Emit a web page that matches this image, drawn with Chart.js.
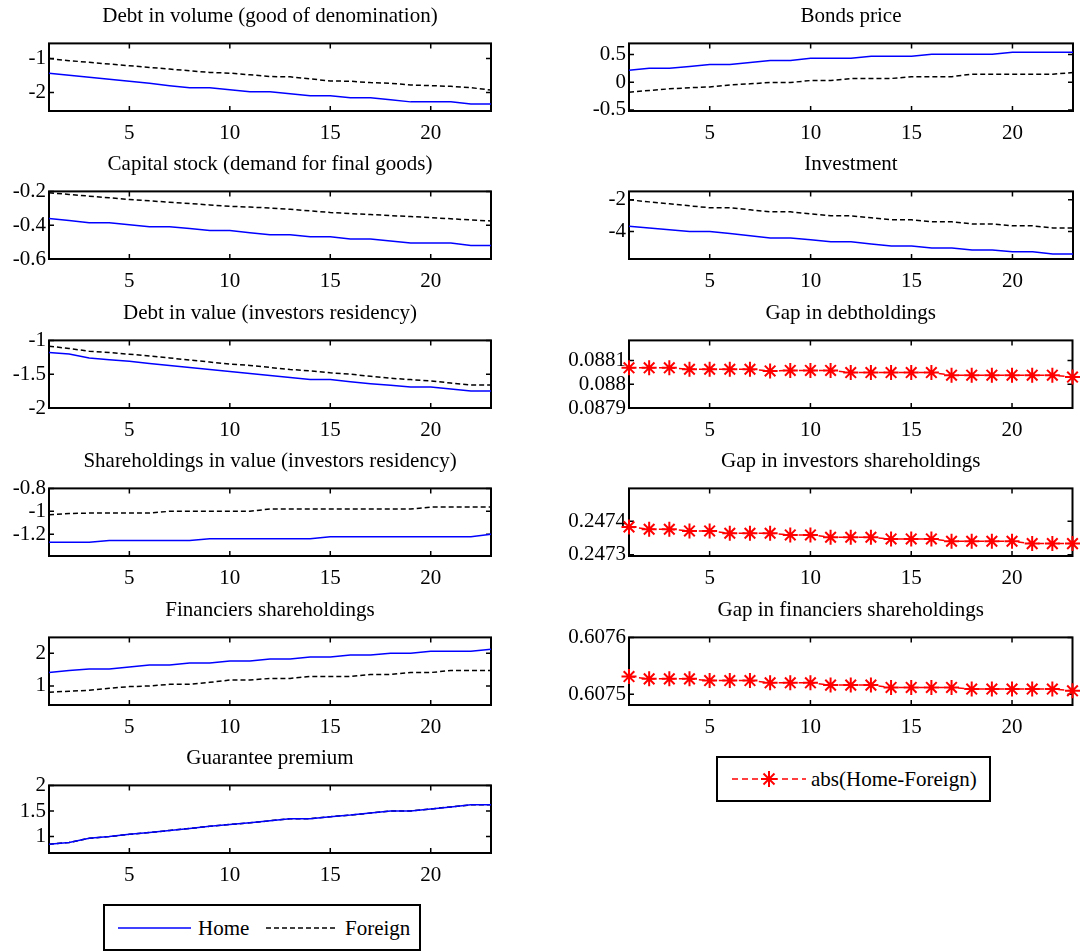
<!DOCTYPE html>
<html>
<head>
<meta charset="utf-8">
<script src="https://cdn.jsdelivr.net/npm/chart.js@4.4.0/dist/chart.umd.min.js"></script>
<style>
    body { margin: 0; background: #fff; width: 1082px; height: 952px; position: relative; overflow: hidden; font-family: "Liberation Serif", "Times New Roman", serif; }
    canvas { position: absolute; }
    .legend { position: absolute; border: 2px solid #000; box-sizing: border-box; background: #fff; font-size: 21px; color: #000; }
    .legend svg { position: absolute; left: 0; top: 0; }
    .legend span { position: absolute; top: 50%; transform: translateY(-50%); white-space: nowrap; }
</style>
</head>
<body>
<div id="root"></div>
<div class="legend" style="left:103px; top:904px; width:318px; height:47px;">
    <svg width="318" height="47">
        <line x1="13" y1="22" x2="86" y2="22" stroke="#0000ff" stroke-width="1.5"/>
        <line x1="161" y1="22" x2="233" y2="22" stroke="#000" stroke-width="1.5" stroke-dasharray="5,3"/>
    </svg>
    <span style="left:93px;">Home</span>
    <span style="left:240px;">Foreign</span>
</div>
<div class="legend" style="left:716px; top:756px; width:275px; height:46px;">
    <svg width="275" height="46">
        <line x1="14" y1="21" x2="88" y2="21" stroke="#ff0000" stroke-width="1.5" stroke-dasharray="6,4"/>
        <g stroke="#ff0000" stroke-width="2">
            <line x1="51" y1="13" x2="51" y2="29"/><line x1="43" y1="21" x2="59" y2="21"/>
            <line x1="45.5" y1="15.5" x2="56.5" y2="26.5"/><line x1="56.5" y1="15.5" x2="45.5" y2="26.5"/>
        </g>
    </svg>
    <span style="left:93px;">abs(Home-Foreign)</span>
</div>
<script>
const periods = [1, 2, 3, 4, 5, 6, 7, 8, 9, 10, 11, 12, 13, 14, 15, 16, 17, 18, 19, 20, 21, 22, 23];
const xTicks = [5, 10, 15, 20];

// left column
const debtVolumeHome = [-1.43, -1.49, -1.55, -1.61, -1.67, -1.73, -1.80, -1.86, -1.86, -1.92, -1.98, -1.98, -2.04, -2.10, -2.10, -2.16, -2.16, -2.22, -2.28, -2.28, -2.28, -2.34, -2.34];
const debtVolumeForeign = [-1.00, -1.06, -1.11, -1.16, -1.21, -1.26, -1.31, -1.36, -1.41, -1.43, -1.48, -1.53, -1.54, -1.60, -1.66, -1.67, -1.71, -1.73, -1.78, -1.80, -1.82, -1.86, -1.93];
const debtVolumeTicks = [-2, -1];

const capitalHome = [-0.360, -0.372, -0.385, -0.385, -0.397, -0.409, -0.409, -0.420, -0.431, -0.431, -0.444, -0.457, -0.457, -0.469, -0.469, -0.481, -0.481, -0.493, -0.505, -0.505, -0.505, -0.520, -0.520];
const capitalForeign = [-0.208, -0.218, -0.228, -0.238, -0.248, -0.256, -0.264, -0.272, -0.280, -0.288, -0.293, -0.298, -0.306, -0.315, -0.325, -0.331, -0.337, -0.343, -0.349, -0.355, -0.362, -0.369, -0.375];
const capitalTicks = [-0.6, -0.4, -0.2];

const debtValueHome = [-1.18, -1.20, -1.26, -1.285, -1.31, -1.34, -1.37, -1.40, -1.43, -1.46, -1.49, -1.52, -1.55, -1.58, -1.58, -1.61, -1.64, -1.665, -1.69, -1.69, -1.72, -1.75, -1.75];
const debtValueForeign = [-1.085, -1.12, -1.16, -1.18, -1.205, -1.23, -1.26, -1.29, -1.32, -1.35, -1.37, -1.40, -1.43, -1.45, -1.48, -1.50, -1.53, -1.56, -1.58, -1.60, -1.63, -1.66, -1.66];
const debtValueTicks = [-2, -1.5, -1];

const shareValueHome = [-1.27, -1.27, -1.27, -1.255, -1.255, -1.255, -1.255, -1.255, -1.24, -1.24, -1.24, -1.24, -1.24, -1.24, -1.223, -1.223, -1.223, -1.223, -1.223, -1.223, -1.223, -1.223, -1.20];
const shareValueForeign = [-1.03, -1.02, -1.015, -1.015, -1.015, -1.015, -1.00, -1.00, -1.00, -1.00, -1.00, -0.98, -0.98, -0.98, -0.98, -0.98, -0.98, -0.98, -0.98, -0.963, -0.963, -0.963, -0.963];
const shareValueTicks = [-1.2, -1, -0.8];

const financiersHome = [1.41, 1.47, 1.52, 1.52, 1.58, 1.64, 1.64, 1.70, 1.70, 1.76, 1.76, 1.82, 1.82, 1.88, 1.88, 1.94, 1.94, 2.00, 2.00, 2.06, 2.06, 2.06, 2.12];
const financiersForeign = [0.81, 0.84, 0.87, 0.93, 0.98, 1.00, 1.05, 1.05, 1.11, 1.18, 1.18, 1.23, 1.23, 1.29, 1.29, 1.29, 1.35, 1.35, 1.41, 1.41, 1.47, 1.47, 1.47];
const financiersTicks = [1, 2];

const guaranteeHome = [0.853, 0.885, 0.968, 1.00, 1.045, 1.08, 1.12, 1.16, 1.20, 1.236, 1.27, 1.31, 1.35, 1.35, 1.39, 1.42, 1.46, 1.50, 1.50, 1.54, 1.58, 1.62, 1.62];
const guaranteeForeign = [0.853, 0.885, 0.968, 1.00, 1.045, 1.08, 1.12, 1.16, 1.20, 1.236, 1.27, 1.31, 1.35, 1.35, 1.39, 1.42, 1.46, 1.50, 1.50, 1.54, 1.58, 1.62, 1.62];
const guaranteeTicks = [1, 1.5, 2];

// right column
const bondsHome = [0.215, 0.25, 0.25, 0.285, 0.32, 0.32, 0.355, 0.39, 0.39, 0.43, 0.43, 0.43, 0.47, 0.47, 0.47, 0.505, 0.505, 0.505, 0.505, 0.54, 0.54, 0.54, 0.54];
const bondsForeign = [-0.18, -0.15, -0.12, -0.10, -0.085, -0.05, -0.03, -0.005, -0.005, 0.03, 0.03, 0.067, 0.067, 0.067, 0.10, 0.10, 0.10, 0.145, 0.145, 0.145, 0.145, 0.145, 0.175];
const bondsTicks = [-0.5, 0, 0.5];

const investmentHome = [-3.66, -3.78, -3.89, -4.00, -4.00, -4.13, -4.27, -4.40, -4.40, -4.52, -4.65, -4.65, -4.78, -4.91, -4.91, -5.03, -5.03, -5.16, -5.16, -5.28, -5.28, -5.41, -5.41];
const investmentForeign = [-2.00, -2.13, -2.25, -2.38, -2.50, -2.50, -2.63, -2.76, -2.76, -2.88, -3.01, -3.01, -3.13, -3.26, -3.26, -3.39, -3.39, -3.52, -3.52, -3.64, -3.64, -3.77, -3.77];
const investmentTicks = [-4, -2];

const gapDebt = [0.088069, 0.088069, 0.088069, 0.088063, 0.088063, 0.088063, 0.088063, 0.088056, 0.088058, 0.088058, 0.088058, 0.088049, 0.088049, 0.088049, 0.088049, 0.088049, 0.088038, 0.088038, 0.088038, 0.088038, 0.088038, 0.088038, 0.088030];
const gapDebtTicks = [0.0879, 0.088, 0.0881];

const gapInvestors = [0.247383, 0.247376, 0.247376, 0.247371, 0.247371, 0.247364, 0.247364, 0.247364, 0.247359, 0.247359, 0.247352, 0.247352, 0.247352, 0.247347, 0.247347, 0.247347, 0.247340, 0.247340, 0.247340, 0.247340, 0.247333, 0.247333, 0.247333];
const gapInvestorsTicks = [0.2473, 0.2474];

const gapFinanciers = [0.607531, 0.607527, 0.607527, 0.607527, 0.607524, 0.607524, 0.607524, 0.607520, 0.607520, 0.607520, 0.607516, 0.607516, 0.607516, 0.607512, 0.607512, 0.607512, 0.607512, 0.607509, 0.607509, 0.607509, 0.607509, 0.607509, 0.607506];
const gapFinanciersTicks = [0.6075, 0.6076];

const FONT = '"Liberation Serif", "Times New Roman", serif';
const ROW_TOPS = [43, 191, 340, 488, 637, 785];
const PLOT_H = 68;
const TITLE_H = 40;
const XAXIS_H = 34;
const COLUMNS = {
    left: { canvasLeft: 0, yAxisW: 49, plotW: 442, padRight: 9 },
    right: { canvasLeft: 559, yAxisW: 70, plotW: 444, padRight: 9 }
};

Chart.defaults.color = '#000';
Chart.defaults.font.family = FONT;
Chart.defaults.font.size = 21;

// MATLAB-like box with inward tick marks on all four sides
const matlabFrame = {
    id: 'matlabFrame',
    beforeDatasetsDraw(chart) {
        const { ctx, chartArea: a, scales: { x, y } } = chart;
        ctx.save();
        ctx.strokeStyle = '#000';
        ctx.lineWidth = 1.5;
        ctx.beginPath();
        x.ticks.forEach(t => {
            const px = x.getPixelForValue(t.value);
            ctx.moveTo(px, a.bottom); ctx.lineTo(px, a.bottom - 5);
            ctx.moveTo(px, a.top); ctx.lineTo(px, a.top + 5);
        });
        y.ticks.forEach(t => {
            const py = y.getPixelForValue(t.value);
            ctx.moveTo(a.left, py); ctx.lineTo(a.left + 5, py);
            ctx.moveTo(a.right, py); ctx.lineTo(a.right - 5, py);
        });
        ctx.stroke();
        ctx.lineWidth = 2;
        ctx.strokeRect(a.left, a.top, a.right - a.left, a.bottom - a.top);
        ctx.restore();
    }
};

function homeForeign(home, foreign) {
    return [
        { data: home, borderColor: '#0000ff', borderWidth: 1.5, pointRadius: 0, clip: false },
        { data: foreign, borderColor: '#000', borderWidth: 1.5, borderDash: [5, 3], pointRadius: 0, clip: false }
    ];
}

function gapSeries(values) {
    return [{
        data: values, borderColor: '#ff0000', borderWidth: 1.5, borderDash: [6, 4],
        pointStyle: 'star', pointRadius: 7.5, pointBorderColor: '#ff0000', pointBorderWidth: 2, clip: false
    }];
}

const panels = [
    { col: 'left', row: 0, title: 'Debt in volume (good of denomination)', datasets: homeForeign(debtVolumeHome, debtVolumeForeign), yMin: -2.55, yMax: -0.55, yTicks: debtVolumeTicks },
    { col: 'left', row: 1, title: 'Capital stock (demand for final goods)', datasets: homeForeign(capitalHome, capitalForeign), yMin: -0.6, yMax: -0.2, yTicks: capitalTicks },
    { col: 'left', row: 2, title: 'Debt in value (investors residency)', datasets: homeForeign(debtValueHome, debtValueForeign), yMin: -2, yMax: -1, yTicks: debtValueTicks },
    { col: 'left', row: 3, title: 'Shareholdings in value (investors residency)', datasets: homeForeign(shareValueHome, shareValueForeign), yMin: -1.39, yMax: -0.8, yTicks: shareValueTicks },
    { col: 'left', row: 4, title: 'Financiers shareholdings', datasets: homeForeign(financiersHome, financiersForeign), yMin: 0.42, yMax: 2.48, yTicks: financiersTicks },
    { col: 'left', row: 5, title: 'Guarantee premium', datasets: homeForeign(guaranteeHome, guaranteeForeign), yMin: 0.68, yMax: 2, yTicks: guaranteeTicks },
    { col: 'right', row: 0, title: 'Bonds price', datasets: homeForeign(bondsHome, bondsForeign), yMin: -0.52, yMax: 0.7, yTicks: bondsTicks },
    { col: 'right', row: 1, title: 'Investment', datasets: homeForeign(investmentHome, investmentForeign), yMin: -5.73, yMax: -1.47, yTicks: investmentTicks },
    { col: 'right', row: 2, title: 'Gap in debtholdings', datasets: gapSeries(gapDebt), yMin: 0.0879, yMax: 0.0881845, yTicks: gapDebtTicks },
    { col: 'right', row: 3, title: 'Gap in investors shareholdings', datasets: gapSeries(gapInvestors), yMin: 0.247296, yMax: 0.247498, yTicks: gapInvestorsTicks },
    { col: 'right', row: 4, title: 'Gap in financiers shareholdings', datasets: gapSeries(gapFinanciers), yMin: 0.607481, yMax: 0.6076, yTicks: gapFinanciersTicks }
];

const root = document.getElementById('root');
panels.forEach(p => {
    const c = COLUMNS[p.col];
    const canvas = document.createElement('canvas');
    canvas.width = c.yAxisW + c.plotW + c.padRight;
    canvas.height = TITLE_H + PLOT_H + XAXIS_H;
    canvas.style.left = c.canvasLeft + 'px';
    canvas.style.top = (ROW_TOPS[p.row] - TITLE_H) + 'px';
    root.appendChild(canvas);

    new Chart(canvas.getContext('2d'), {
        type: 'line',
        data: { labels: periods, datasets: p.datasets },
        options: {
            responsive: false,
            animation: false,
            events: [],
            layout: { padding: { top: 0.4, right: c.padRight, left: 0, bottom: 0 } },
            plugins: {
                legend: { display: false },
                tooltip: { enabled: false },
                title: {
                    display: true, text: p.title, fullSize: false, color: '#000',
                    font: { size: 21, weight: 'normal' }, padding: { top: 0.4, bottom: 14.4 }
                }
            },
            scales: {
                x: {
                    type: 'linear', min: 1, max: 23,
                    grid: { display: false, drawTicks: false }, border: { display: false },
                    afterBuildTicks: axis => { axis.ticks = xTicks.map(v => ({ value: v })); },
                    afterFit: axis => { axis.height = XAXIS_H; },
                    ticks: { padding: 10, maxRotation: 0, autoSkip: false, font: { size: 21 } }
                },
                y: {
                    min: p.yMin, max: p.yMax,
                    grid: { display: false, drawTicks: false }, border: { display: false },
                    afterBuildTicks: axis => { axis.ticks = p.yTicks.map(v => ({ value: v })); },
                    afterFit: axis => { axis.width = c.yAxisW; },
                    ticks: {
                        padding: 3, autoSkip: false, font: { size: 21 },
                        callback: v => String(parseFloat(Number(v).toPrecision(10)))
                    }
                }
            }
        },
        plugins: [matlabFrame]
    });
});
</script>
</body>
</html>
